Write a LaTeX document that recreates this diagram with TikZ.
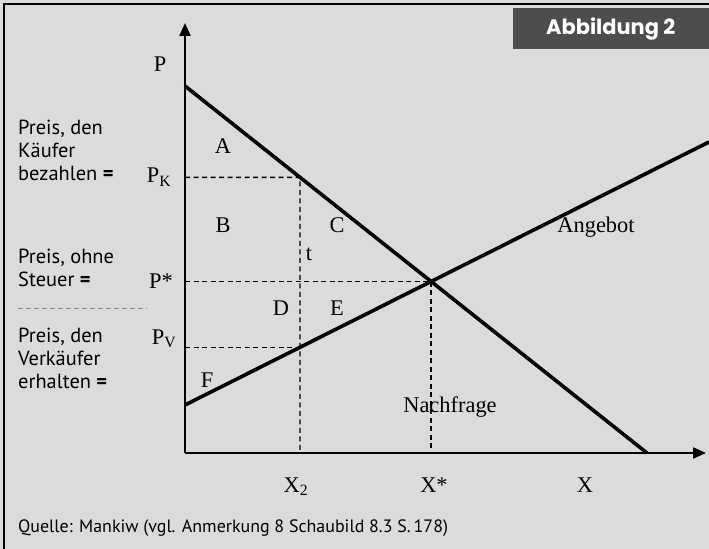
\documentclass[tikz,border=0pt]{standalone}
\usepackage{fontspec}
\setmainfont{Liberation Serif}
\newfontfamily\notesans{PT Sans}
\newfontfamily\titlesans{Poppins}
\usetikzlibrary{arrows.meta, positioning, calc}
\definecolor{PanelGray}{HTML}{DBDBDB}
\definecolor{TitleGray}{HTML}{4D4D4D}
\definecolor{RuleGray}{HTML}{8A8A8A}
\tikzset{
  axis/.style={line width=2.2bp, -{Triangle[length=13bp, width=11bp]}},
  curve/.style={line width=3.6bp},
  guide/.style={line width=1.3bp, dash pattern=on 5bp off 3.5bp},
  lbl/.style={inner sep=0pt, anchor=base, font=\fontsize{22.5}{25}\selectfont},
  note/.style={inner sep=0pt, anchor=west, align=left, font=\notesans\fontsize{20.5}{23}\selectfont},
  titlebox/.style={fill=TitleGray, text=white, anchor=north east, minimum width=196bp, minimum height=41bp, inner sep=0pt, font=\titlesans\bfseries\fontsize{21}{24}\selectfont}
}
\begin{document}
\begin{tikzpicture}[x=1bp, y=-1bp]
\useasboundingbox (0,0) rectangle (709,549);
\fill[PanelGray] (0,0) rectangle (709,549);
\draw[line width=1.2bp] (4,549) -- (4,4) -- (709,4);
\node[titlebox] (title) at (709,8) {Abbildung 2};

% axes and curves
\coordinate (O) at (185,453);
\coordinate (ytip) at (185,23);
\coordinate (xtip) at (706,453);
\coordinate (d0) at (185,86);
\coordinate (d1) at (647,453);
\coordinate (s0) at (185,405);
\coordinate (s1) at (709,142);
\coordinate (x2) at (300,453);
\coordinate (x2top) at (300,0);
\coordinate (eq) at (intersection of d0--d1 and s0--s1);
\coordinate (pk) at (intersection of d0--d1 and x2--x2top);
\coordinate (pv) at (intersection of s0--s1 and x2--x2top);

\draw[axis] (O) -- (ytip);
\draw[axis] (O) -- (xtip);
\draw[curve] (d0) -- (d1);
\draw[curve] (s0) -- (s1);
\draw[guide] (pk -| O) -- (pk) -- (x2);
\draw[guide] (eq -| O) -- (eq) -- (eq |- O);
\draw[guide] (pv -| O) -- (pv);

% labels
\node[lbl] (lblP) at (160,72) {P};
\node[lbl] (lblPK) at (159,183) {P\textsubscript{K}};
\node[lbl] (lblPeq) at (161,288) {P*};
\node[lbl] (lblPV) at (164,344) {P\textsubscript{V}};
\node[lbl] (lblA) at (223,154) {A};
\node[lbl] (lblB) at (223,233) {B};
\node[lbl] (lblC) at (337,233) {C};
\node[lbl] (lblt) at (309,261) {t};
\node[lbl] (lblD) at (281,315) {D};
\node[lbl] (lblE) at (337,315) {E};
\node[lbl] (lblF) at (207,387) {F};
\node[lbl] (supply) at (596,233) {Angebot};
\node[lbl] (demand) at (450,412) {Nachfrage};
\node[lbl] (lblX2) at (296,492) {X\textsubscript{2}};
\node[lbl] (lblXeq) at (434,492) {X*};
\node[lbl] (lblX) at (585,492) {X};

% notes on the left
\node[note] (buyer) at (18,150) {Preis, den\\K\"aufer\\bezahlen \textbf{=}};
\node[note] (notax) at (18,268) {Preis, ohne\\Steuer \textbf{=}};
\draw[RuleGray, line width=1bp, dash pattern=on 5bp off 3bp] (18,308) -- (147,308);
\node[note] (seller) at (18,358) {Preis, den\\Verk\"aufer\\erhalten \textbf{=}};
\node[note, font=\notesans\fontsize{18}{21}\selectfont] (source) at (18,528) {Quelle: Mankiw (vgl. Anmerkung 8 Schaubild 8.3 S.\,178)};
\end{tikzpicture}
\end{document}
